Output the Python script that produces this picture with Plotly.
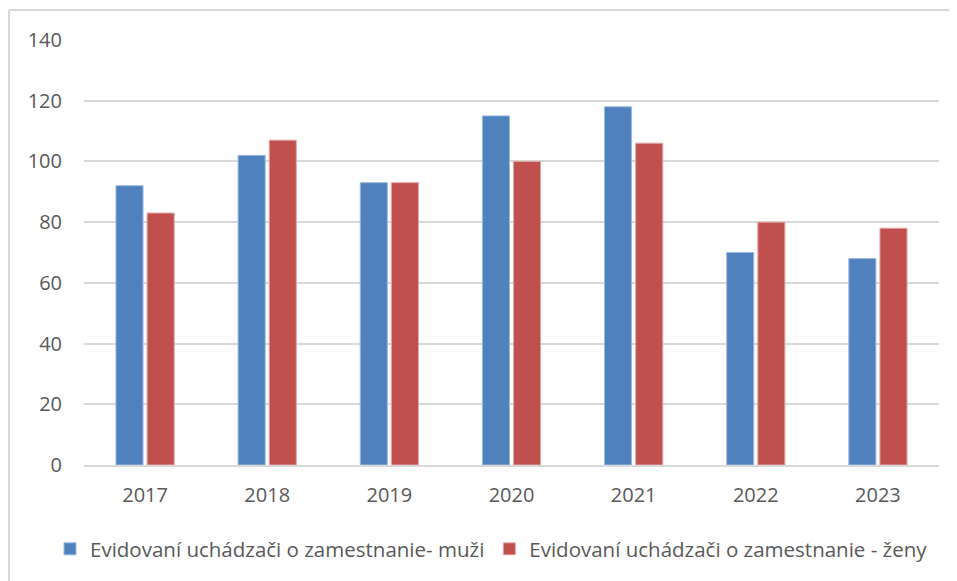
import plotly.graph_objects as go

years = ["2017", "2018", "2019", "2020", "2021", "2022", "2023"]
muzi = [92, 102, 93, 115, 118, 70, 68]
zeny = [83, 107, 93, 100, 106, 80, 78]
name_muzi = "Evidovaní uchádzači o zamestnanie- muži"
name_zeny = "Evidovaní uchádzači o zamestnanie - ženy"
y_ticks = [0, 20, 40, 60, 80, 100, 120, 140]

# page body has an 8px default margin, so the figure is 8px smaller
W, H = 949, 573
ML, MR, MT, MB = 76, 18, 32, 116
PW, PH = W - ML - MR, H - MT - MB
font_family = "Open Sans, sans-serif"
text_col = "#595959"

fig = go.Figure()
fig.add_trace(go.Bar(x=years, y=muzi, name=name_muzi,
                     marker=dict(color="#4F81BD", line=dict(color="#9DB9DF", width=1))))
fig.add_trace(go.Bar(x=years, y=zeny, name=name_zeny,
                     marker=dict(color="#C0504D", line=dict(color="#E3A7A5", width=1))))

fig.update_layout(
    width=W, height=H,
    margin=dict(l=ML, r=MR, t=MT, b=MB, autoexpand=False),
    paper_bgcolor="white", plot_bgcolor="white",
    barmode="group", bargap=0.49, bargroupgap=0.13,
    font=dict(family=font_family, color=text_col, size=20),
    showlegend=True,
    legend=dict(orientation="h", x=(42 - ML) / PW, xanchor="left",
                y=-84 / PH, yanchor="middle",
                font=dict(size=20.5, color=text_col), itemwidth=30, traceorder="normal",
                tracegroupgap=0),
    xaxis=dict(showline=True, linecolor="#d9d9d9", linewidth=2, ticks="",
               tickfont=dict(size=20, color=text_col), showgrid=False, ticklabelstandoff=11),
    yaxis=dict(range=[0, 140], tickvals=y_ticks, showgrid=True, gridcolor="#d9d9d9",
               gridwidth=2, zeroline=False, showline=False, ticks="",
               tickfont=dict(size=20, color=text_col), ticklabelstandoff=21),
)

# outer chart frame (partly cut off at right and bottom)
fx = (1 - ML) / PW
fy = 1 + (MT - 2) / PH
fig.add_shape(type="line", xref="paper", yref="paper",
              x0=fx, x1=fx, y0=-(MB + 10) / PH, y1=fy,
              line=dict(color="#d9d9d9", width=2))
fig.add_shape(type="line", xref="paper", yref="paper",
              x0=fx, x1=1 + (MR + 10) / PW, y0=fy, y1=fy,
              line=dict(color="#d9d9d9", width=2))

fig.write_html("out.html")
